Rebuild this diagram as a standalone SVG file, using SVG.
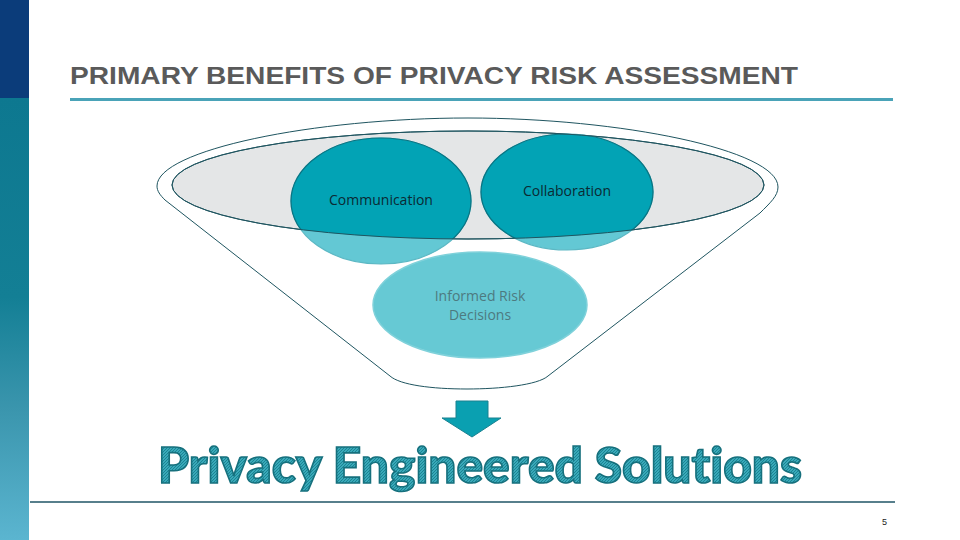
<svg xmlns="http://www.w3.org/2000/svg" width="960" height="540" viewBox="0 0 960 540">
<defs>
<style>
.title{font-family:"Liberation Sans",Arial,sans-serif;font-size:24px;font-weight:bold;fill:#5a5a5a}
.lbl{font-family:"Open Sans","Noto Sans",sans-serif;font-size:14px;text-anchor:middle}
.dark{fill:#0b2a33}
.mid{fill:#4d7a80}
.circDark{fill:#02a3b5;stroke:#0a7482;stroke-width:1.2}
.circLight{fill:#63c8d4;stroke:#5cb8c4;stroke-width:1.2}
.outline{fill:none;stroke:#1f5560;stroke-width:1}
.big{font-family:"Lato","Open Sans",sans-serif;font-size:49px;font-weight:900;fill:url(#hatch);stroke:#16707d;stroke-width:1.6;text-anchor:middle;font-variant-ligatures:none;font-feature-settings:"liga" 0}
</style>
<linearGradient id="side" x1="0" y1="0" x2="0" y2="1">
<stop offset="0" stop-color="#0d7890"/>
<stop offset="0.45" stop-color="#137f95"/>
<stop offset="0.7" stop-color="#3a95ad"/>
<stop offset="1" stop-color="#5bb5d0"/>
</linearGradient>
<pattern id="hatch" width="3" height="3" patternUnits="userSpaceOnUse">
<rect width="3" height="3" fill="#3aa9b9"/>
<path d="M0,3 L3,0" stroke="#17808f" stroke-width="0.9"/>
</pattern>
<clipPath id="innerClip">
<ellipse cx="468" cy="185" rx="296" ry="54"/>
</clipPath>
</defs>
<rect width="960" height="540" fill="#ffffff"/>
<g id="sidebar">
<rect x="0" y="98" width="29" height="442" fill="url(#side)"/>
<rect x="0" y="0" width="29" height="98" fill="#0b3c7a"/>
</g>
<g id="title">
<text class="title" x="70" y="84" textLength="728" lengthAdjust="spacingAndGlyphs">PRIMARY BENEFITS OF PRIVACY RISK ASSESSMENT</text>
<line x1="70" y1="99.5" x2="893" y2="99.5" stroke="#4aa3b8" stroke-width="3"/>
</g>
<g id="funnel">
<path class="outline" d="M468,118 C620,118 778,150 778,187 C778,196 770,203 760,213 L548,376 C538,385 500,389 467,389 C432,389 400,385 390,376 L165,200 C160,195 157,191 157,186 C157,150 314,118 468,118 Z"/>
<ellipse cx="468" cy="185" rx="296" ry="54" fill="#e4e6e7" stroke="#1f5560" stroke-width="1"/>
</g>
<g id="communication">
<ellipse class="circLight" cx="381" cy="201" rx="90" ry="63"/>
<ellipse class="circDark" cx="381" cy="201" rx="90" ry="63" clip-path="url(#innerClip)"/>
<text class="lbl dark" x="381" y="205">Communication</text>
</g>
<g id="collaboration">
<ellipse class="circLight" cx="567" cy="192" rx="86" ry="58"/>
<ellipse class="circDark" cx="567" cy="192" rx="86" ry="58" clip-path="url(#innerClip)"/>
<text class="lbl dark" x="567" y="196">Collaboration</text>
</g>
<ellipse cx="468" cy="185" rx="296" ry="54" fill="none" stroke="#1f5560" stroke-width="1"/>
<g id="informed">
<ellipse cx="480" cy="305" rx="107" ry="53" fill="#66c9d4" stroke="#7fd1da" stroke-width="1.5"/>
<text class="lbl mid" x="480" y="301">Informed Risk</text>
<text class="lbl mid" x="480" y="320">Decisions</text>
</g>
<g id="connectors">
<path d="M456,401 L488,401 L488,418 L501,418 L472,437 L442,418 L456,418 Z" fill="#0aa0b1" stroke="#1a8190" stroke-width="1"/>
</g>
<g id="solutions">
<text class="big" x="480" y="483" textLength="644" lengthAdjust="spacingAndGlyphs">Privacy Engineered Solutions</text>
</g>
<g id="footer">
<line x1="30" y1="502" x2="895" y2="502" stroke="#1f5566" stroke-width="1.5"/>
<text x="882" y="525" font-family="Liberation Sans,Arial,sans-serif" font-size="9" fill="#222">5</text>
</g>
</svg>
